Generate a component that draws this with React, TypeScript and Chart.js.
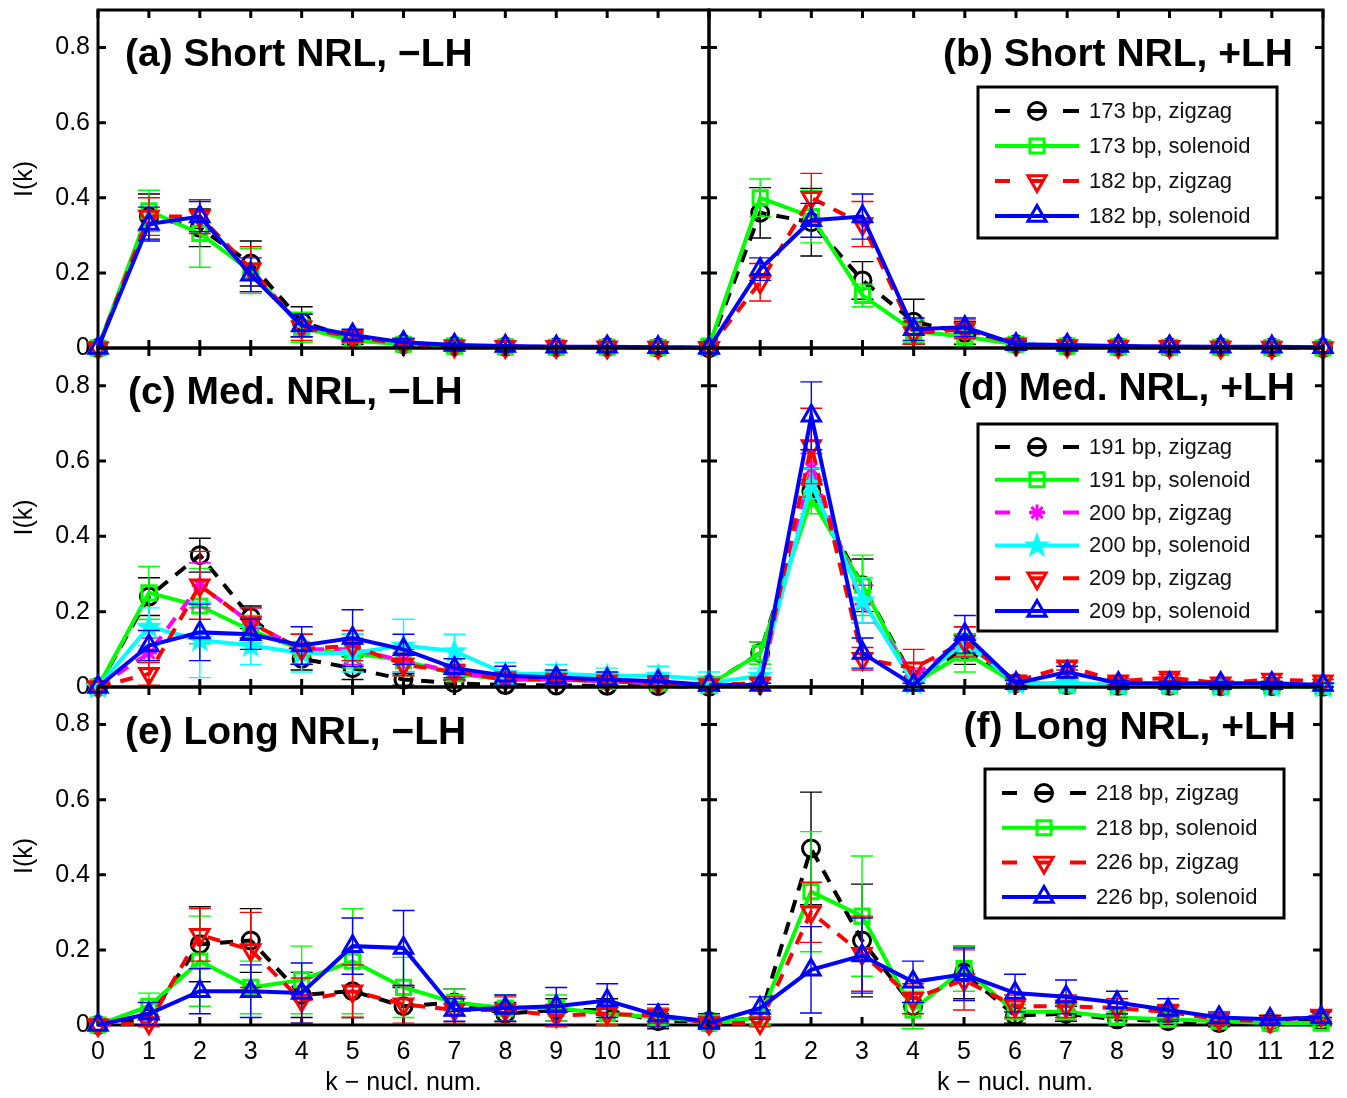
import React, { useEffect, useRef } from 'react';
import { Chart, registerables } from 'chart.js';
import { drawPoint } from 'chart.js/helpers';
Chart.register(...registerables);

// ---------- data ----------
const K = [0, 1, 2, 3, 4, 5, 6, 7, 8, 9, 10, 11, 12];
const Y_TICKS = [0, 0.2, 0.4, 0.6, 0.8];
const X_TICKS_LEFT = [0, 1, 2, 3, 4, 5, 6, 7, 8, 9, 10, 11];
const X_TICKS_RIGHT = [0, 1, 2, 3, 4, 5, 6, 7, 8, 9, 10, 11, 12];

// (a) Short NRL, -LH
const A_173Z = [0, 0.35, 0.32, 0.225, 0.07, 0.025, 0.01, 0.005, 0.003, 0.002, 0.002, 0.001, 0];
const A_173Z_ERR = [0, 0.06, 0.05, 0.06, 0.04, 0.015, 0.008, 0.004, 0.003, 0.002, 0.002, 0.001, 0];
const A_173S = [0, 0.365, 0.305, 0.205, 0.055, 0.02, 0.01, 0.005, 0.003, 0.002, 0.002, 0.001, 0];
const A_173S_ERR = [0, 0.055, 0.09, 0.06, 0.04, 0.015, 0.008, 0.004, 0.003, 0.002, 0.002, 0.001, 0];
const A_182Z = [0, 0.35, 0.35, 0.21, 0.055, 0.03, 0.01, 0.005, 0.003, 0.003, 0.002, 0.001, 0];
const A_182Z_ERR = [0, 0.05, 0.045, 0.06, 0.035, 0.015, 0.008, 0.004, 0.003, 0.002, 0.002, 0.001, 0];
const A_182S = [0, 0.33, 0.35, 0.195, 0.06, 0.035, 0.015, 0.008, 0.005, 0.003, 0.003, 0.002, 0.001];
const A_182S_ERR = [0, 0.045, 0.04, 0.045, 0.03, 0.015, 0.01, 0.005, 0.003, 0.002, 0.002, 0.001, 0];

// (b) Short NRL, +LH
const B_173Z = [0, 0.36, 0.335, 0.18, 0.07, 0.04, 0.01, 0.005, 0.003, 0.002, 0.002, 0.001, 0];
const B_173Z_ERR = [0, 0.067, 0.09, 0.05, 0.06, 0.03, 0.008, 0.004, 0.003, 0.002, 0.002, 0.001, 0];
const B_173S = [0.005, 0.4, 0.35, 0.14, 0.045, 0.03, 0.01, 0.005, 0.003, 0.002, 0.002, 0.001, 0];
const B_173S_ERR = [0, 0.05, 0.07, 0.03, 0.03, 0.025, 0.008, 0.004, 0.003, 0.002, 0.002, 0.001, 0];
const B_182Z = [0, 0.175, 0.4, 0.33, 0.04, 0.05, 0.01, 0.005, 0.004, 0.003, 0.002, 0.001, 0];
const B_182Z_ERR = [0, 0.05, 0.065, 0.06, 0.03, 0.025, 0.008, 0.004, 0.003, 0.002, 0.002, 0.001, 0];
const B_182S = [0, 0.21, 0.34, 0.35, 0.05, 0.055, 0.01, 0.008, 0.005, 0.004, 0.003, 0.003, 0.002];
const B_182S_ERR = [0, 0.03, 0.045, 0.06, 0.03, 0.025, 0.008, 0.004, 0.003, 0.002, 0.002, 0.001, 0];

// (c) Med. NRL, -LH
const C_191Z = [0, 0.24, 0.35, 0.185, 0.075, 0.05, 0.02, 0.01, 0.005, 0.004, 0.003, 0.002, 0.001];
const C_191Z_ERR = [0, 0.05, 0.045, 0.03, 0.03, 0.03, 0.015, 0.008, 0.005, 0.004, 0.003, 0.002, 0.001];
const C_191S = [0, 0.25, 0.215, 0.15, 0.1, 0.09, 0.07, 0.035, 0.02, 0.02, 0.015, 0.01, 0.005];
const C_191S_ERR = [0, 0.07, 0.1, 0.04, 0.04, 0.04, 0.04, 0.02, 0.02, 0.015, 0.015, 0.01, 0.005];
const C_200Z = [0, 0.09, 0.27, 0.17, 0.1, 0.1, 0.07, 0.04, 0.02, 0.02, 0.015, 0.01, 0.005];
const C_200Z_ERR = [0, 0.04, 0.06, 0.04, 0.04, 0.04, 0.03, 0.02, 0.02, 0.015, 0.015, 0.01, 0.005];
const C_200S = [0, 0.16, 0.125, 0.11, 0.09, 0.09, 0.11, 0.095, 0.035, 0.035, 0.03, 0.03, 0.02];
const C_200S_ERR = [0, 0.05, 0.1, 0.05, 0.05, 0.05, 0.07, 0.045, 0.03, 0.025, 0.02, 0.025, 0.02];
const C_209Z = [0, 0.035, 0.27, 0.17, 0.1, 0.11, 0.06, 0.04, 0.02, 0.02, 0.015, 0.01, 0.005];
const C_209Z_ERR = [0, 0.03, 0.09, 0.04, 0.04, 0.04, 0.03, 0.02, 0.02, 0.015, 0.015, 0.01, 0.005];
const C_209S = [0, 0.11, 0.145, 0.14, 0.11, 0.13, 0.1, 0.05, 0.03, 0.025, 0.02, 0.015, 0.005];
const C_209S_ERR = [0, 0.04, 0.075, 0.04, 0.05, 0.075, 0.04, 0.025, 0.025, 0.02, 0.02, 0.015, 0.01];

// (d) Med. NRL, +LH
const D_191Z = [0.005, 0.09, 0.52, 0.27, 0.02, 0.1, 0.01, 0.005, 0.003, 0.003, 0.002, 0.002, 0.001];
const D_191Z_ERR = [0, 0.03, 0.03, 0.07, 0.02, 0.04, 0.008, 0.005, 0.003, 0.003, 0.002, 0.002, 0.001];
const D_191S = [0.005, 0.09, 0.5, 0.27, 0.01, 0.09, 0.01, 0.005, 0.003, 0.003, 0.002, 0.002, 0.001];
const D_191S_ERR = [0, 0.03, 0.04, 0.08, 0.01, 0.05, 0.008, 0.005, 0.003, 0.003, 0.002, 0.002, 0.001];
const D_200Z = [0.005, 0.01, 0.58, 0.22, 0.03, 0.12, 0.01, 0.01, 0.005, 0.005, 0.003, 0.003, 0.002];
const D_200Z_ERR = [0, 0.01, 0.04, 0.05, 0.02, 0.04, 0.008, 0.005, 0.004, 0.003, 0.002, 0.002, 0.001];
const D_200S = [0.01, 0.03, 0.54, 0.23, 0.01, 0.12, 0.01, 0.01, 0.005, 0.01, 0.005, 0.003, 0.002];
const D_200S_ERR = [0, 0.02, 0.04, 0.06, 0.01, 0.04, 0.008, 0.005, 0.004, 0.003, 0.002, 0.002, 0.001];
const D_209Z = [0.005, 0.01, 0.64, 0.075, 0.05, 0.12, 0.015, 0.055, 0.015, 0.025, 0.01, 0.02, 0.015];
const D_209Z_ERR = [0, 0.01, 0.1, 0.03, 0.05, 0.04, 0.01, 0.01, 0.008, 0.008, 0.005, 0.005, 0.005];
const D_209S = [0.005, 0.005, 0.72, 0.09, 0.005, 0.14, 0.01, 0.04, 0.01, 0.01, 0.01, 0.01, 0.005];
const D_209S_ERR = [0, 0.005, 0.09, 0.04, 0.005, 0.05, 0.008, 0.015, 0.008, 0.005, 0.005, 0.005, 0.005];

// (e) Long NRL, -LH
const E_218Z = [0, 0.02, 0.215, 0.225, 0.08, 0.09, 0.05, 0.06, 0.03, 0.04, 0.04, 0.01, 0.01];
const E_218Z_ERR = [0, 0.02, 0.1, 0.085, 0.06, 0.07, 0.05, 0.035, 0.03, 0.03, 0.03, 0.02, 0.015];
const E_218S = [0, 0.05, 0.17, 0.1, 0.12, 0.17, 0.1, 0.06, 0.045, 0.045, 0.03, 0.02, 0.01];
const E_218S_ERR = [0, 0.035, 0.12, 0.07, 0.09, 0.14, 0.08, 0.035, 0.035, 0.035, 0.03, 0.02, 0.015];
const E_226Z = [0, 0.005, 0.24, 0.2, 0.065, 0.09, 0.055, 0.04, 0.04, 0.025, 0.03, 0.025, 0.005];
const E_226Z_ERR = [0, 0.01, 0.07, 0.1, 0.06, 0.07, 0.05, 0.035, 0.035, 0.03, 0.03, 0.02, 0.015];
const E_226S = [0, 0.03, 0.09, 0.09, 0.085, 0.21, 0.205, 0.04, 0.045, 0.05, 0.065, 0.025, 0.01];
const E_226S_ERR = [0, 0.03, 0.06, 0.07, 0.08, 0.075, 0.1, 0.03, 0.035, 0.05, 0.045, 0.03, 0.02];

// (f) Long NRL, +LH
const F_218Z = [0.005, 0.02, 0.47, 0.225, 0.05, 0.14, 0.025, 0.03, 0.015, 0.01, 0.005, 0.005, 0.01];
const F_218Z_ERR = [0, 0.02, 0.15, 0.15, 0.05, 0.07, 0.02, 0.02, 0.015, 0.01, 0.01, 0.005, 0.01];
const F_218S = [0.005, 0.02, 0.355, 0.29, 0.04, 0.15, 0.035, 0.035, 0.02, 0.015, 0.01, 0.005, 0.005];
const F_218S_ERR = [0, 0.02, 0.16, 0.16, 0.05, 0.06, 0.02, 0.02, 0.015, 0.01, 0.01, 0.005, 0.01];
const F_226Z = [0.005, 0.005, 0.3, 0.19, 0.07, 0.12, 0.05, 0.05, 0.045, 0.035, 0.015, 0.01, 0.025];
const F_226Z_ERR = [0, 0.01, 0.08, 0.1, 0.04, 0.08, 0.03, 0.03, 0.025, 0.02, 0.015, 0.01, 0.015];
const F_226S = [0.005, 0.045, 0.147, 0.185, 0.115, 0.135, 0.085, 0.075, 0.06, 0.04, 0.02, 0.015, 0.02];
const F_226S_ERR = [0, 0.03, 0.115, 0.1, 0.055, 0.07, 0.05, 0.045, 0.03, 0.03, 0.015, 0.01, 0.015];

// ---------- styles ----------
const FONT = '"Liberation Sans", Arial, Helvetica, sans-serif';
const BLACK = '#000000';
const GREEN = '#00ff00';
const RED = '#ff0000';
const BLUE = '#0000ff';
const MAGENTA = '#ff00ff';
const CYAN = '#00ffff';

type Marker = 'circle' | 'square' | 'down' | 'up' | 'asterisk' | 'pentagram';
type Series = { label: string; values: number[]; errors: number[]; color: string; dashed: boolean; marker: Marker };

function makeStar(color: string): HTMLCanvasElement {
  const c = document.createElement('canvas');
  c.width = 30;
  c.height = 30;
  const g = c.getContext('2d')!;
  g.fillStyle = color;
  g.beginPath();
  for (let i = 0; i < 10; i++) {
    const r = i % 2 === 0 ? 14 : 5.6;
    const a = -Math.PI / 2 + (i * Math.PI) / 5;
    const px = 15 + r * Math.cos(a);
    const py = 15.5 + r * Math.sin(a);
    if (i === 0) g.moveTo(px, py);
    else g.lineTo(px, py);
  }
  g.closePath();
  g.fill();
  return c;
}

let STAR_CACHE: HTMLCanvasElement | null = null;
function markerProps(m: Marker, color: string) {
  switch (m) {
    case 'circle':
      return { style: 'circle' as any, radius: 8.5, rotation: 0 };
    case 'square':
      return { style: 'rect' as any, radius: 10, rotation: 0 };
    case 'down':
      return { style: 'triangle' as any, radius: 10.5, rotation: 180 };
    case 'up':
      return { style: 'triangle' as any, radius: 10.5, rotation: 0 };
    case 'asterisk':
      return { style: 'star' as any, radius: 8, rotation: 0 };
    case 'pentagram':
    default:
      if (!STAR_CACHE) STAR_CACHE = makeStar(color);
      return { style: STAR_CACHE as any, radius: 12, rotation: 0 };
  }
}

type Legend = { x: number; y: number; w: number; h: number; first: number; step: number };
type PanelCfg = {
  id: string;
  l: number; t: number; r: number; b: number;
  ML: number; MR: number; MT: number; MB: number;
  showY: boolean; showX: boolean; xTicks: number[];
  title: string; titleX: number; titleY: number; titleAlign: 'left' | 'right';
  legend: Legend | null;
  series: Series[];
};

const mk = (label: string, values: number[], errors: number[], color: string, dashed: boolean, marker: Marker): Series =>
  ({ label, values, errors, color, dashed, marker });

const PANELS: PanelCfg[] = [
  {
    id: 'a', l: 98, t: 10, r: 709, b: 348, ML: 98, MR: 22, MT: 26, MB: 26,
    showY: true, showX: false, xTicks: X_TICKS_LEFT,
    title: '(a) Short NRL, \u2212LH', titleX: 125, titleY: 55, titleAlign: 'left', legend: null,
    series: [
      mk('173 bp, zigzag', A_173Z, A_173Z_ERR, BLACK, true, 'circle'),
      mk('173 bp, solenoid', A_173S, A_173S_ERR, GREEN, false, 'square'),
      mk('182 bp, zigzag', A_182Z, A_182Z_ERR, RED, true, 'down'),
      mk('182 bp, solenoid', A_182S, A_182S_ERR, BLUE, false, 'up'),
    ],
  },
  {
    id: 'b', l: 709, t: 10, r: 1323, b: 348, ML: 30, MR: 24, MT: 26, MB: 26,
    showY: false, showX: false, xTicks: X_TICKS_RIGHT,
    title: '(b) Short NRL, +LH', titleX: 1293, titleY: 55, titleAlign: 'right',
    legend: { x: 978, y: 87, w: 299, h: 151, first: 24, step: 35 },
    series: [
      mk('173 bp, zigzag', B_173Z, B_173Z_ERR, BLACK, true, 'circle'),
      mk('173 bp, solenoid', B_173S, B_173S_ERR, GREEN, false, 'square'),
      mk('182 bp, zigzag', B_182Z, B_182Z_ERR, RED, true, 'down'),
      mk('182 bp, solenoid', B_182S, B_182S_ERR, BLUE, false, 'up'),
    ],
  },
  {
    id: 'c', l: 98, t: 348, r: 709, b: 687, ML: 98, MR: 22, MT: 26, MB: 26,
    showY: true, showX: false, xTicks: X_TICKS_LEFT,
    title: '(c) Med. NRL, \u2212LH', titleX: 128, titleY: 393, titleAlign: 'left', legend: null,
    series: [
      mk('191 bp, zigzag', C_191Z, C_191Z_ERR, BLACK, true, 'circle'),
      mk('191 bp, solenoid', C_191S, C_191S_ERR, GREEN, false, 'square'),
      mk('200 bp, zigzag', C_200Z, C_200Z_ERR, MAGENTA, true, 'asterisk'),
      mk('200 bp, solenoid', C_200S, C_200S_ERR, CYAN, false, 'pentagram'),
      mk('209 bp, zigzag', C_209Z, C_209Z_ERR, RED, true, 'down'),
      mk('209 bp, solenoid', C_209S, C_209S_ERR, BLUE, false, 'up'),
    ],
  },
  {
    id: 'd', l: 709, t: 348, r: 1323, b: 687, ML: 30, MR: 24, MT: 26, MB: 26,
    showY: false, showX: false, xTicks: X_TICKS_RIGHT,
    title: '(d) Med. NRL, +LH', titleX: 1295, titleY: 389, titleAlign: 'right',
    legend: { x: 978, y: 424, w: 299, h: 207, first: 23, step: 32.8 },
    series: [
      mk('191 bp, zigzag', D_191Z, D_191Z_ERR, BLACK, true, 'circle'),
      mk('191 bp, solenoid', D_191S, D_191S_ERR, GREEN, false, 'square'),
      mk('200 bp, zigzag', D_200Z, D_200Z_ERR, MAGENTA, true, 'asterisk'),
      mk('200 bp, solenoid', D_200S, D_200S_ERR, CYAN, false, 'pentagram'),
      mk('209 bp, zigzag', D_209Z, D_209Z_ERR, RED, true, 'down'),
      mk('209 bp, solenoid', D_209S, D_209S_ERR, BLUE, false, 'up'),
    ],
  },
  {
    id: 'e', l: 98, t: 687, r: 709, b: 1025, ML: 98, MR: 22, MT: 26, MB: 73,
    showY: true, showX: true, xTicks: X_TICKS_LEFT,
    title: '(e) Long NRL, \u2212LH', titleX: 125, titleY: 733, titleAlign: 'left', legend: null,
    series: [
      mk('218 bp, zigzag', E_218Z, E_218Z_ERR, BLACK, true, 'circle'),
      mk('218 bp, solenoid', E_218S, E_218S_ERR, GREEN, false, 'square'),
      mk('226 bp, zigzag', E_226Z, E_226Z_ERR, RED, true, 'down'),
      mk('226 bp, solenoid', E_226S, E_226S_ERR, BLUE, false, 'up'),
    ],
  },
  {
    id: 'f', l: 709, t: 687, r: 1323, b: 1025, ML: 30, MR: 24, MT: 26, MB: 73,
    showY: false, showX: true, xTicks: X_TICKS_RIGHT,
    title: '(f) Long NRL, +LH', titleX: 1296, titleY: 728, titleAlign: 'right',
    legend: { x: 985, y: 769, w: 299, h: 149, first: 24, step: 34.7 },
    series: [
      mk('218 bp, zigzag', F_218Z, F_218Z_ERR, BLACK, true, 'circle'),
      mk('218 bp, solenoid', F_218S, F_218S_ERR, GREEN, false, 'square'),
      mk('226 bp, zigzag', F_226Z, F_226Z_ERR, RED, true, 'down'),
      mk('226 bp, solenoid', F_226S, F_226S_ERR, BLUE, false, 'up'),
    ],
  },
];

function PanelChart({ cfg }: { cfg: PanelCfg }) {
  const ref = useRef<HTMLCanvasElement>(null);
  const W = cfg.r - cfg.l + cfg.ML + cfg.MR;
  const H = cfg.b - cfg.t + cfg.MT + cfg.MB;
  const cx = cfg.l - cfg.ML;
  const cy = cfg.t - cfg.MT;

  useEffect(() => {
    const n = cfg.series.length;
    const datasets = cfg.series.map((s, i) => {
      const m = markerProps(s.marker, s.color);
      return {
        label: s.label,
        data: s.values.map((v, j) => ({ x: K[j], y: v })),
        errors: s.errors,
        borderColor: s.color,
        backgroundColor: s.color,
        borderWidth: 4,
        borderDash: s.dashed ? [13, 10] : [],
        pointStyle: m.style,
        pointRadius: m.radius,
        pointRotation: m.rotation,
        pointBorderWidth: 3,
        pointBorderColor: s.color,
        pointBackgroundColor: m.style && typeof m.style === 'object' ? s.color : 'rgba(0,0,0,0)',
        tension: 0,
        fill: false,
        clip: false,
        order: n - i,
      } as any;
    });

    const decor = {
      id: 'decor' + cfg.id,
      beforeDatasetsDraw(chart: any) {
        const { ctx, chartArea } = chart;
        const { left, right, top, bottom } = chartArea;
        const xs = chart.scales.x;
        const ys = chart.scales.y;
        ctx.save();
        ctx.strokeStyle = '#000';
        ctx.lineWidth = 3;
        ctx.setLineDash([]);
        ctx.strokeRect(left, top, right - left, bottom - top);
        const TL = 8;
        ctx.beginPath();
        for (const k of X_TICKS_RIGHT) {
          const x = xs.getPixelForValue(k);
          ctx.moveTo(x, bottom);
          ctx.lineTo(x, bottom - TL);
          ctx.moveTo(x, top);
          ctx.lineTo(x, top + TL);
        }
        for (const v of Y_TICKS) {
          const y = ys.getPixelForValue(v);
          ctx.moveTo(left, y);
          ctx.lineTo(left + TL, y);
          ctx.moveTo(right, y);
          ctx.lineTo(right - TL, y);
        }
        ctx.stroke();
        ctx.restore();
      },
      beforeDatasetDraw(chart: any, args: any) {
        const ds = chart.data.datasets[args.index];
        const xs = chart.scales.x;
        const ys = chart.scales.y;
        const ctx = chart.ctx;
        ctx.save();
        ctx.strokeStyle = ds.borderColor;
        ctx.lineWidth = 1.4;
        ctx.setLineDash([]);
        ctx.beginPath();
        ds.data.forEach((p: any, j: number) => {
          const e = ds.errors[j];
          if (!e || e <= 0.004) return;
          const x = xs.getPixelForValue(p.x);
          const y1 = ys.getPixelForValue(p.y - e);
          const y2 = ys.getPixelForValue(p.y + e);
          const cw = 11;
          ctx.moveTo(x, y1);
          ctx.lineTo(x, y2);
          ctx.moveTo(x - cw, y1);
          ctx.lineTo(x + cw, y1);
          ctx.moveTo(x - cw, y2);
          ctx.lineTo(x + cw, y2);
        });
        ctx.stroke();
        ctx.restore();
      },
      afterDraw(chart: any) {
        const ctx = chart.ctx;
        ctx.save();
        ctx.fillStyle = '#000';
        ctx.font = `bold 39px ${FONT}`;
        ctx.textBaseline = 'middle';
        ctx.textAlign = cfg.titleAlign;
        ctx.fillText(cfg.title, cfg.titleX - cx, cfg.titleY - cy);
        const lg = cfg.legend;
        if (lg) {
          const bx = lg.x - cx;
          const by = lg.y - cy;
          ctx.fillStyle = '#fff';
          ctx.fillRect(bx, by, lg.w, lg.h);
          ctx.strokeStyle = '#000';
          ctx.lineWidth = 3;
          ctx.setLineDash([]);
          ctx.strokeRect(bx, by, lg.w, lg.h);
          cfg.series.forEach((s, i) => {
            const y = by + lg.first + i * lg.step;
            const x1 = bx + 17;
            const x2 = bx + 101;
            const xm = bx + 59;
            ctx.strokeStyle = s.color;
            ctx.lineWidth = 4;
            ctx.beginPath();
            if (s.dashed) {
              ctx.moveTo(x1, y);
              ctx.lineTo(x1 + 15, y);
              ctx.moveTo(xm - 7, y);
              ctx.lineTo(xm + 7, y);
              ctx.moveTo(x2 - 16, y);
              ctx.lineTo(x2, y);
            } else {
              ctx.moveTo(x1, y);
              ctx.lineTo(x2, y);
            }
            ctx.stroke();
            const m = markerProps(s.marker, s.color);
            ctx.fillStyle = typeof m.style === 'object' ? s.color : 'rgba(0,0,0,0)';
            ctx.strokeStyle = s.color;
            ctx.lineWidth = 3;
            drawPoint(ctx, { pointStyle: m.style, rotation: m.rotation, radius: m.radius, borderWidth: 3 } as any, xm, y);
            ctx.fillStyle = '#111';
            ctx.font = `22px ${FONT}`;
            ctx.textAlign = 'left';
            ctx.textBaseline = 'middle';
            ctx.fillText(s.label, bx + 111, y + 1);
          });
        }
        ctx.restore();
      },
    };

    const chart = new Chart(ref.current!, {
      type: 'line',
      data: { datasets },
      options: {
        responsive: false,
        animation: false,
        devicePixelRatio: 1,
        events: [],
        layout: { padding: { left: 0, top: cfg.MT, right: cfg.MR, bottom: 0 } },
        plugins: { legend: { display: false }, tooltip: { enabled: false }, title: { display: false } },
        scales: {
          x: {
            type: 'linear',
            min: 0,
            max: 12,
            grid: { display: false, drawTicks: false },
            border: { display: false },
            ticks: {
              display: cfg.showX,
              color: '#000',
              font: { family: FONT, size: 25 },
              padding: 12,
              autoSkip: false,
              maxRotation: 0,
              callback: (v: any) => String(v),
            },
            afterBuildTicks: (s: any) => {
              s.ticks = cfg.xTicks.map((v) => ({ value: v }));
            },
            afterFit: (s: any) => {
              s.height = cfg.MB;
            },
            title: {
              display: cfg.showX,
              text: 'k \u2212 nucl. num.',
              color: '#000',
              font: { family: FONT, size: 25 },
              padding: { top: 0, bottom: 0 },
            },
          },
          y: {
            type: 'linear',
            min: 0,
            max: 0.9,
            grid: { display: false, drawTicks: false },
            border: { display: false },
            ticks: {
              display: cfg.showY,
              color: '#000',
              font: { family: FONT, size: 25 },
              padding: 8,
              callback: (v: any) => String(Math.round(Number(v) * 10) / 10),
            },
            afterBuildTicks: (s: any) => {
              s.ticks = Y_TICKS.map((v) => ({ value: v }));
            },
            afterFit: (s: any) => {
              s.width = cfg.ML;
            },
            title: {
              display: cfg.showY,
              text: 'I(k)',
              color: '#000',
              font: { family: FONT, size: 25 },
              padding: { top: 10, bottom: 0 },
            },
          },
        },
      } as any,
      plugins: [decor as any],
    });
    return () => chart.destroy();
  }, []);

  return (
    <canvas
      ref={ref}
      width={W}
      height={H}
      style={{ position: 'absolute', left: cx, top: cy, width: W, height: H }}
    />
  );
}

export default function App() {
  return (
    <div style={{ position: 'absolute', left: 0, top: 0, width: 1347, height: 1098, background: '#fff', overflow: 'hidden' }}>
      {PANELS.map((p) => (
        <PanelChart key={p.id} cfg={p} />
      ))}
    </div>
  );
}
